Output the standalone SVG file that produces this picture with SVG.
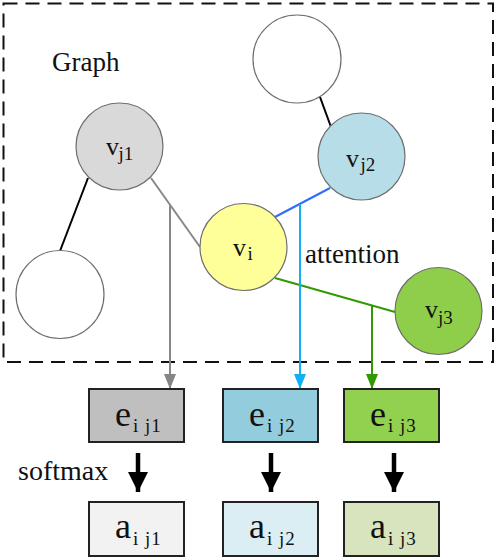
<svg xmlns="http://www.w3.org/2000/svg" width="498" height="559" viewBox="0 0 498 559">
<style>
text{font-family:"Liberation Serif","DejaVu Serif",serif;fill:#111}
.node{stroke:#6e6e6e;stroke-width:1.2}
.box{stroke:#222;stroke-width:2}
.edge{fill:none;stroke-width:2}
</style>
<defs>
<marker id="hg" markerUnits="userSpaceOnUse" markerWidth="15" markerHeight="12" refX="15" refY="6" orient="auto"><path d="M0,0 L15,6 L0,12 z" fill="#858585"/></marker>
<marker id="hb" markerUnits="userSpaceOnUse" markerWidth="15" markerHeight="12" refX="15" refY="6" orient="auto"><path d="M0,0 L15,6 L0,12 z" fill="#12b0f0"/></marker>
<marker id="hn" markerUnits="userSpaceOnUse" markerWidth="15" markerHeight="12" refX="15" refY="6" orient="auto"><path d="M0,0 L15,6 L0,12 z" fill="#339900"/></marker>
<marker id="hk" markerUnits="userSpaceOnUse" markerWidth="20" markerHeight="20" refX="20" refY="10" orient="auto"><path d="M0,0 L20,10 L0,20 z" fill="#000"/></marker>
</defs>
<rect x="3.5" y="3.5" width="489.5" height="358.5" fill="none" stroke="#111" stroke-width="2" stroke-dasharray="14,8"/>
<g font-family="Liberation Serif, serif">
<text x="52" y="71" font-size="27">Graph</text>
<text x="305" y="263" font-size="27">attention</text>
<text x="18" y="480" font-size="28">softmax</text>
</g>
<g id="connectors">
<line class="edge" x1="88" y1="178" x2="60" y2="251" stroke="#000"/>
<line class="edge" x1="320" y1="97" x2="331" y2="127" stroke="#000"/>
<line class="edge" x1="151" y1="178" x2="200" y2="247" stroke="#888"/>
<line class="edge" x1="330" y1="188" x2="275" y2="217" stroke="#2f6bff"/>
<line class="edge" x1="275" y1="278" x2="395" y2="312" stroke="#339900"/>
<line class="edge" x1="170" y1="205" x2="170" y2="389" stroke="#888" marker-end="url(#hg)"/>
<line class="edge" x1="300" y1="204" x2="300" y2="389" stroke="#12b0f0" marker-end="url(#hb)"/>
<line class="edge" x1="372" y1="305" x2="372" y2="389" stroke="#339900" marker-end="url(#hn)"/>
<line x1="138" y1="453" x2="138" y2="492" stroke="#000" stroke-width="4.5" marker-end="url(#hk)"/>
<line x1="271" y1="453" x2="271" y2="492" stroke="#000" stroke-width="4.5" marker-end="url(#hk)"/>
<line x1="394" y1="453" x2="394" y2="492" stroke="#000" stroke-width="4.5" marker-end="url(#hk)"/>
</g>
<g id="n_top"><circle class="node" cx="297" cy="59" r="44" fill="#fff"/></g>
<g id="n_left"><circle class="node" cx="60" cy="294.5" r="44" fill="#fff"/></g>
<g id="v_j1"><circle class="node" cx="119.5" cy="146.5" r="43.5" fill="#d9d9d9"/>
<text x="106" y="155" font-size="26">v<tspan x="118.5" y="160" font-size="19">j1</tspan></text></g>
<g id="v_j2"><circle class="node" cx="361.5" cy="156.5" r="43.5" fill="#b7dde8"/>
<text x="346" y="167" font-size="26">v<tspan x="360.5" y="171" font-size="19">j2</tspan></text></g>
<g id="v_i"><circle class="node" cx="243.5" cy="247" r="43.5" fill="#ffff99"/>
<text x="233" y="256" font-size="26">v<tspan x="247.5" y="260" font-size="19">i</tspan></text></g>
<g id="v_j3"><circle class="node" cx="438.5" cy="311" r="43.5" fill="#8fce4a"/>
<text x="425" y="318" font-size="26">v<tspan x="438" y="324" font-size="19">j3</tspan></text></g>
<g id="e_ij1"><rect class="box" x="89" y="389" width="95" height="53" fill="#bfbfbf"/>
<text x="115" y="426" font-size="36">e<tspan x="133" y="432" font-size="19" letter-spacing="1">i j1</tspan></text></g>
<g id="e_ij2"><rect class="box" x="223" y="389" width="95" height="53" fill="#93cddd"/>
<text x="249" y="426" font-size="36">e<tspan x="267" y="432" font-size="19" letter-spacing="1">i j2</tspan></text></g>
<g id="e_ij3"><rect class="box" x="344" y="389" width="95" height="53" fill="#92d050"/>
<text x="370" y="426" font-size="36">e<tspan x="388" y="432" font-size="19" letter-spacing="1">i j3</tspan></text></g>
<g id="a_ij1"><rect class="box" x="89" y="502" width="95" height="54" fill="#f2f2f2"/>
<text x="115" y="538" font-size="36">a<tspan x="133" y="545" font-size="19" letter-spacing="1">i j1</tspan></text></g>
<g id="a_ij2"><rect class="box" x="223" y="502" width="95" height="54" fill="#dbeef4"/>
<text x="249" y="538" font-size="36">a<tspan x="267" y="545" font-size="19" letter-spacing="1">i j2</tspan></text></g>
<g id="a_ij3"><rect class="box" x="344" y="502" width="95" height="54" fill="#d7e4bd"/>
<text x="370" y="538" font-size="36">a<tspan x="388" y="545" font-size="19" letter-spacing="1">i j3</tspan></text></g>
</svg>
